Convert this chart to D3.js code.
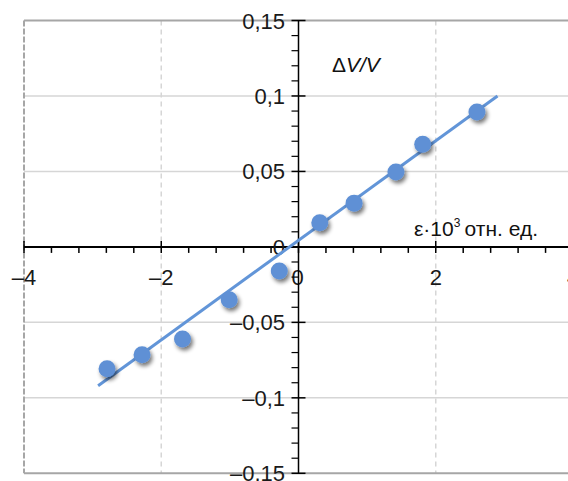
<!DOCTYPE html>
<html><head><meta charset="utf-8">
<script src="https://cdn.jsdelivr.net/npm/d3@7"></script>
<style>html,body{margin:0;padding:0;background:#fff;overflow:hidden}</style>
</head><body>
<svg id="chart" width="568" height="481"></svg>
<script>
// data
const strain = [-2.79, -2.28, -1.69, -1.01, -0.28, 0.31, 0.81, 1.42, 1.81, 2.60];
const dVV    = [-0.0808, -0.0715, -0.061, -0.035, -0.016, 0.016, 0.029, 0.0497, 0.068, 0.0894];
const trendX = [-2.92, 2.90];
const trendY = [-0.092, 0.100];
const xTicks = [-4, -2, 0, 2, 4];
const xTickLabels = ["\u20134", "\u20132", "0", "2", "4"];
const yTicks = [0.15, 0.1, 0.05, 0, -0.05, -0.1, -0.15];
const yTickLabels = ["0,15", "0,1", "0,05", "0", "\u20130,05", "\u20130,1", "\u20130,15"];

const svg = d3.select("#chart");
const x = d3.scaleLinear().domain([-4, 4]).range([24, 573]);
const y = d3.scaleLinear().domain([-0.15, 0.15]).range([473.3, 20.5]);
const font = "'Liberation Sans', Arial, sans-serif";

const defs = svg.append("defs");
const f = defs.append("filter").attr("id","sh").attr("x","-50%").attr("y","-50%").attr("width","200%").attr("height","200%");
f.append("feGaussianBlur").attr("in","SourceAlpha").attr("stdDeviation",2).attr("result","b");
f.append("feOffset").attr("in","b").attr("dx",2).attr("dy",3).attr("result","o");
f.append("feComponentTransfer").attr("in","o").attr("result","o2")
  .append("feFuncA").attr("type","linear").attr("slope",0.55);
const m = f.append("feMerge");
m.append("feMergeNode").attr("in","o2");
m.append("feMergeNode").attr("in","SourceGraphic");

// horizontal gridlines
svg.append("g").selectAll("line").data(yTicks.filter(v => Math.abs(v) < 0.14 && v !== 0)).join("line")
  .attr("x1", x(-4)).attr("x2", 568).attr("y1", d => y(d)).attr("y2", d => y(d))
  .attr("stroke", "#d6d6d6").attr("stroke-width", 1.5);
// vertical dashed gridlines
svg.append("g").selectAll("line").data([-2, 2]).join("line")
  .attr("x1", d => x(d)).attr("x2", d => x(d)).attr("y1", y(0.15)).attr("y2", y(-0.15))
  .attr("stroke", "#d6d6d6").attr("stroke-width", 1.5).attr("stroke-dasharray", "5,4");
// plot border
svg.append("line").attr("x1", x(-4)).attr("x2", 568).attr("y1", y(0.15)).attr("y2", y(0.15))
  .attr("stroke", "#a6a6a6").attr("stroke-width", 2);
svg.append("line").attr("x1", x(-4)).attr("x2", 568).attr("y1", y(-0.15)).attr("y2", y(-0.15))
  .attr("stroke", "#a6a6a6").attr("stroke-width", 2);
svg.append("line").attr("x1", x(-4)).attr("x2", x(-4)).attr("y1", y(0.15)).attr("y2", y(-0.15))
  .attr("stroke", "#a6a6a6").attr("stroke-width", 2).attr("stroke-dasharray", "6,2");

// x axis
const xg = svg.append("g");
xg.append("line").attr("x1", x(-4)).attr("x2", 568).attr("y1", y(0)).attr("y2", y(0))
  .attr("stroke", "#000").attr("stroke-width", 2);
const xMinor = d3.range(-4, 4.001, 0.4).map(v => +v.toFixed(2)).filter(v => Math.abs(v % 2) > 0.01);
xg.selectAll(".xm").data(xMinor).join("line").attr("class","xm")
  .attr("x1", d => x(d)).attr("x2", d => x(d)).attr("y1", y(0)).attr("y2", y(0) + 6)
  .attr("stroke", "#000").attr("stroke-width", 1.5);
xg.selectAll(".xM").data(xTicks).join("line").attr("class","xM")
  .attr("x1", d => x(d)).attr("x2", d => x(d)).attr("y1", y(0) - 6).attr("y2", y(0) + 6)
  .attr("stroke", "#000").attr("stroke-width", 1.5);
xg.selectAll("text").data(xTicks).join("text")
  .attr("x", (d, i) => x(d) - (d === 0 ? 1 : 0)).attr("y", y(0) + 38)
  .attr("text-anchor", "middle").attr("font-family", font).attr("font-size", 22).attr("fill", "#1a1a1a")
  .text((d, i) => xTickLabels[i]);

// y axis
const yg = svg.append("g");
yg.append("line").attr("x1", x(0)).attr("x2", x(0)).attr("y1", y(0.15)).attr("y2", y(-0.15))
  .attr("stroke", "#000").attr("stroke-width", 1.5);
const yMinor = d3.range(-15, 16).map(v => v / 100).filter(v => Math.round(v * 100) % 5 !== 0);
yg.selectAll(".ym").data(yMinor).join("line").attr("class","ym")
  .attr("x1", x(0) - 7).attr("x2", x(0)).attr("y1", d => y(d)).attr("y2", d => y(d))
  .attr("stroke", "#000").attr("stroke-width", 1.2);
yg.selectAll(".yM").data(yTicks).join("line").attr("class","yM")
  .attr("x1", x(0) - 7).attr("x2", x(0) + 7).attr("y1", d => y(d)).attr("y2", d => y(d))
  .attr("stroke", "#000").attr("stroke-width", 1.5);
yg.selectAll("text").data(yTicks).join("text")
  .attr("x", 285).attr("y", d => y(d) + 8)
  .attr("text-anchor", "end").attr("font-family", font).attr("font-size", 22).attr("fill", "#1a1a1a")
  .text((d, i) => yTickLabels[i]);

// trend line
svg.append("line")
  .attr("x1", x(trendX[0])).attr("y1", y(trendY[0])).attr("x2", x(trendX[1])).attr("y2", y(trendY[1]))
  .attr("stroke", "#6295d8").attr("stroke-width", 3);

// points
svg.append("g").attr("filter", "url(#sh)").selectAll("circle").data(strain).join("circle")
  .attr("cx", d => x(d)).attr("cy", (d, i) => y(dVV[i])).attr("r", 8.5)
  .attr("fill", "#5e90d5");

// labels
const t1 = svg.append("text").attr("x", 332).attr("y", 72).attr("font-family", font).attr("font-size", 21).attr("fill", "#111");
t1.append("tspan").text("\u0394");
t1.append("tspan").attr("font-style", "italic").text("V/V");
const t2 = svg.append("text").attr("x", 414).attr("y", 236).attr("font-family", font).attr("font-size", 21).attr("fill", "#111");
t2.append("tspan").text("\u03b5\u00b710");
t2.append("tspan").attr("font-size", 12).attr("dy", -9).text("3");
t2.append("tspan").attr("dy", 9).text("\u2009отн. ед.");
</script>
</body></html>
